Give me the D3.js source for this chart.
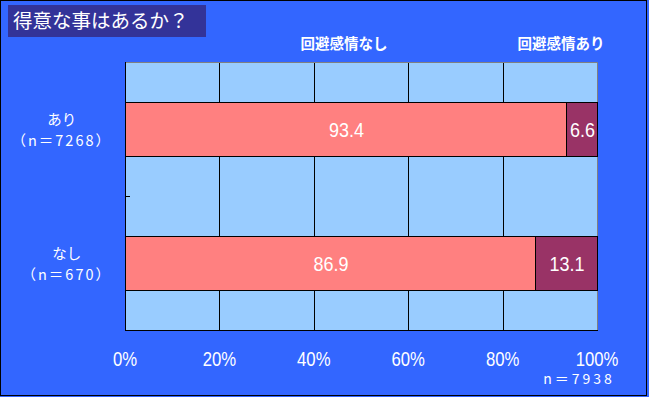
<!DOCTYPE html>
<html><head><meta charset="utf-8">
<script src="https://cdn.jsdelivr.net/npm/d3@7"></script>
<style>
html,body{margin:0;padding:0;background:#3366FF;}
svg{display:block;}
</style></head>
<body>
<svg id="c" width="649" height="397"></svg>
<script>
const title = "得意な事はあるか？";
const categories = ["あり", "なし"];
const categoryCounts = ["（n＝7268）", "（n＝670）"];
const seriesNames = ["回避感情なし", "回避感情あり"];
const noAvoid = [93.4, 86.9];
const withAvoid = [6.6, 13.1];
const xTicks = [0, 20, 40, 60, 80, 100];
const totalNote = "n＝7938";

const colors = ["#FF8080", "#993366"];
const W = 649, H = 397;
const m = {left:125, right:52, top:62, bottom:67};
const svg = d3.select("#c");
const jp = "'Noto Sans CJK JP','Noto Sans',sans-serif";
const num = "'Liberation Sans',Arial,sans-serif";

svg.append("rect").attr("x",0).attr("y",0).attr("width",W).attr("height",H).attr("fill","#3366FF");
svg.append("rect").attr("x",0.5).attr("y",0.5).attr("width",W-3).attr("height",H-2)
  .attr("fill","none").attr("stroke","#000").attr("stroke-width",1);

// title
svg.append("rect").attr("x",8).attr("y",5).attr("width",198).attr("height",32).attr("fill","#333399");
svg.append("text").attr("x",13).attr("y",28).attr("fill","#fff")
  .attr("font-family",jp).attr("font-size",19.5).text(title);

const x = d3.scaleLinear().domain([0,100]).range([m.left, W-m.right]);
const y = d3.scaleBand().domain(categories).range([m.top, H-m.bottom]).paddingInner(0.6).paddingOuter(0.3);

// plot area
svg.append("rect").attr("x",x(0)).attr("y",m.top).attr("width",x(100)-x(0)).attr("height",H-m.bottom-m.top)
  .attr("fill","#99CCFF");
// gridlines
svg.append("g").selectAll("line").data(xTicks.filter(d=>d>0&&d<100)).join("line")
  .attr("x1",d=>Math.round(x(d))+0.5).attr("x2",d=>Math.round(x(d))+0.5)
  .attr("y1",m.top).attr("y2",H-m.bottom).attr("stroke","#000").attr("stroke-width",1);
// top & right border gray
svg.append("path").attr("d",`M${x(0)},${m.top+0.5}H${Math.round(x(100))+0.5}V${H-m.bottom}`)
  .attr("fill","none").attr("stroke","#808080").attr("stroke-width",1);

// bars
const segs = [];
categories.forEach((c,i)=>{
  segs.push({c, v0:0, v1:noAvoid[i], k:0, val:noAvoid[i]});
  segs.push({c, v0:noAvoid[i], v1:noAvoid[i]+withAvoid[i], k:1, val:withAvoid[i]});
});
svg.append("g").selectAll("rect").data(segs).join("rect")
  .attr("x",d=>Math.round(x(d.v0))+0.5).attr("width",d=>Math.round(x(d.v1))-Math.round(x(d.v0)))
  .attr("y",d=>Math.round(y(d.c))+0.5).attr("height",d=>Math.round(y.bandwidth()))
  .attr("fill",d=>colors[d.k]).attr("stroke","#000").attr("stroke-width",1);
svg.append("g").selectAll("text").data(segs).join("text")
  .attr("transform",d=>`translate(${(x(d.v0)+x(d.v1))/2+1},${y(d.c)+y.bandwidth()/2+7.5}) scale(0.9,1.05)`)
  .attr("text-anchor","middle").attr("fill","#fff").attr("font-family",num).attr("font-size",20)
  .text(d=>d.val.toFixed(1));

// axes lines
svg.append("line").attr("x1",x(0)+0.5).attr("x2",x(0)+0.5).attr("y1",m.top).attr("y2",H-m.bottom+0.5)
  .attr("stroke","#000");
svg.append("line").attr("x1",x(0)).attr("x2",Math.round(x(100))+1).attr("y1",H-m.bottom+0.5).attr("y2",H-m.bottom+0.5)
  .attr("stroke","#000");
// category separator tick
svg.append("line").attr("x1",x(0)).attr("x2",x(0)+5)
  .attr("y1",Math.round(y.step()+m.top)+0.5).attr("y2",Math.round(y.step()+m.top)+0.5).attr("stroke","#000");

// x labels
svg.append("g").selectAll("text").data(xTicks).join("text")
  .attr("transform",d=>`translate(${x(d)},366) scale(0.88,1.05)`).attr("text-anchor","middle").attr("fill","#fff")
  .attr("font-family",num).attr("font-size",19).text(d=>d+"%");
svg.append("text").attr("x",579).attr("y",384).attr("text-anchor","middle").attr("fill","#fff")
  .attr("font-family",jp).attr("font-size",14).attr("letter-spacing",3).text(totalNote);

// y labels
categories.forEach((c,i)=>{
  const g = svg.append("g");
  const cy = y(c)+y.bandwidth()/2;
  const t1 = g.append("text").attr("y",cy-4.5).attr("text-anchor","middle").attr("fill","#fff")
    .attr("font-family",jp).attr("font-size",14.5).text(c);
  const t2 = g.append("text").attr("y",cy+16.5).attr("text-anchor","middle").attr("fill","#fff")
    .attr("font-family",jp).attr("font-size",14.5).attr("letter-spacing",2).text(categoryCounts[i]);
  const w = Math.max(t1.node().getComputedTextLength(), t2.node().getComputedTextLength());
  const cx = 112 - w/2;
  t1.attr("x",cx); t2.attr("x",cx);
});

// legend (text only)
svg.append("g").selectAll("text").data(seriesNames).join("text")
  .attr("x",(d,i)=>[344,561][i]).attr("y",49).attr("text-anchor","middle").attr("fill","#fff")
  .attr("font-family",jp).attr("font-size",14.5).attr("font-weight","bold").text(d=>d);
</script>
</body></html>
